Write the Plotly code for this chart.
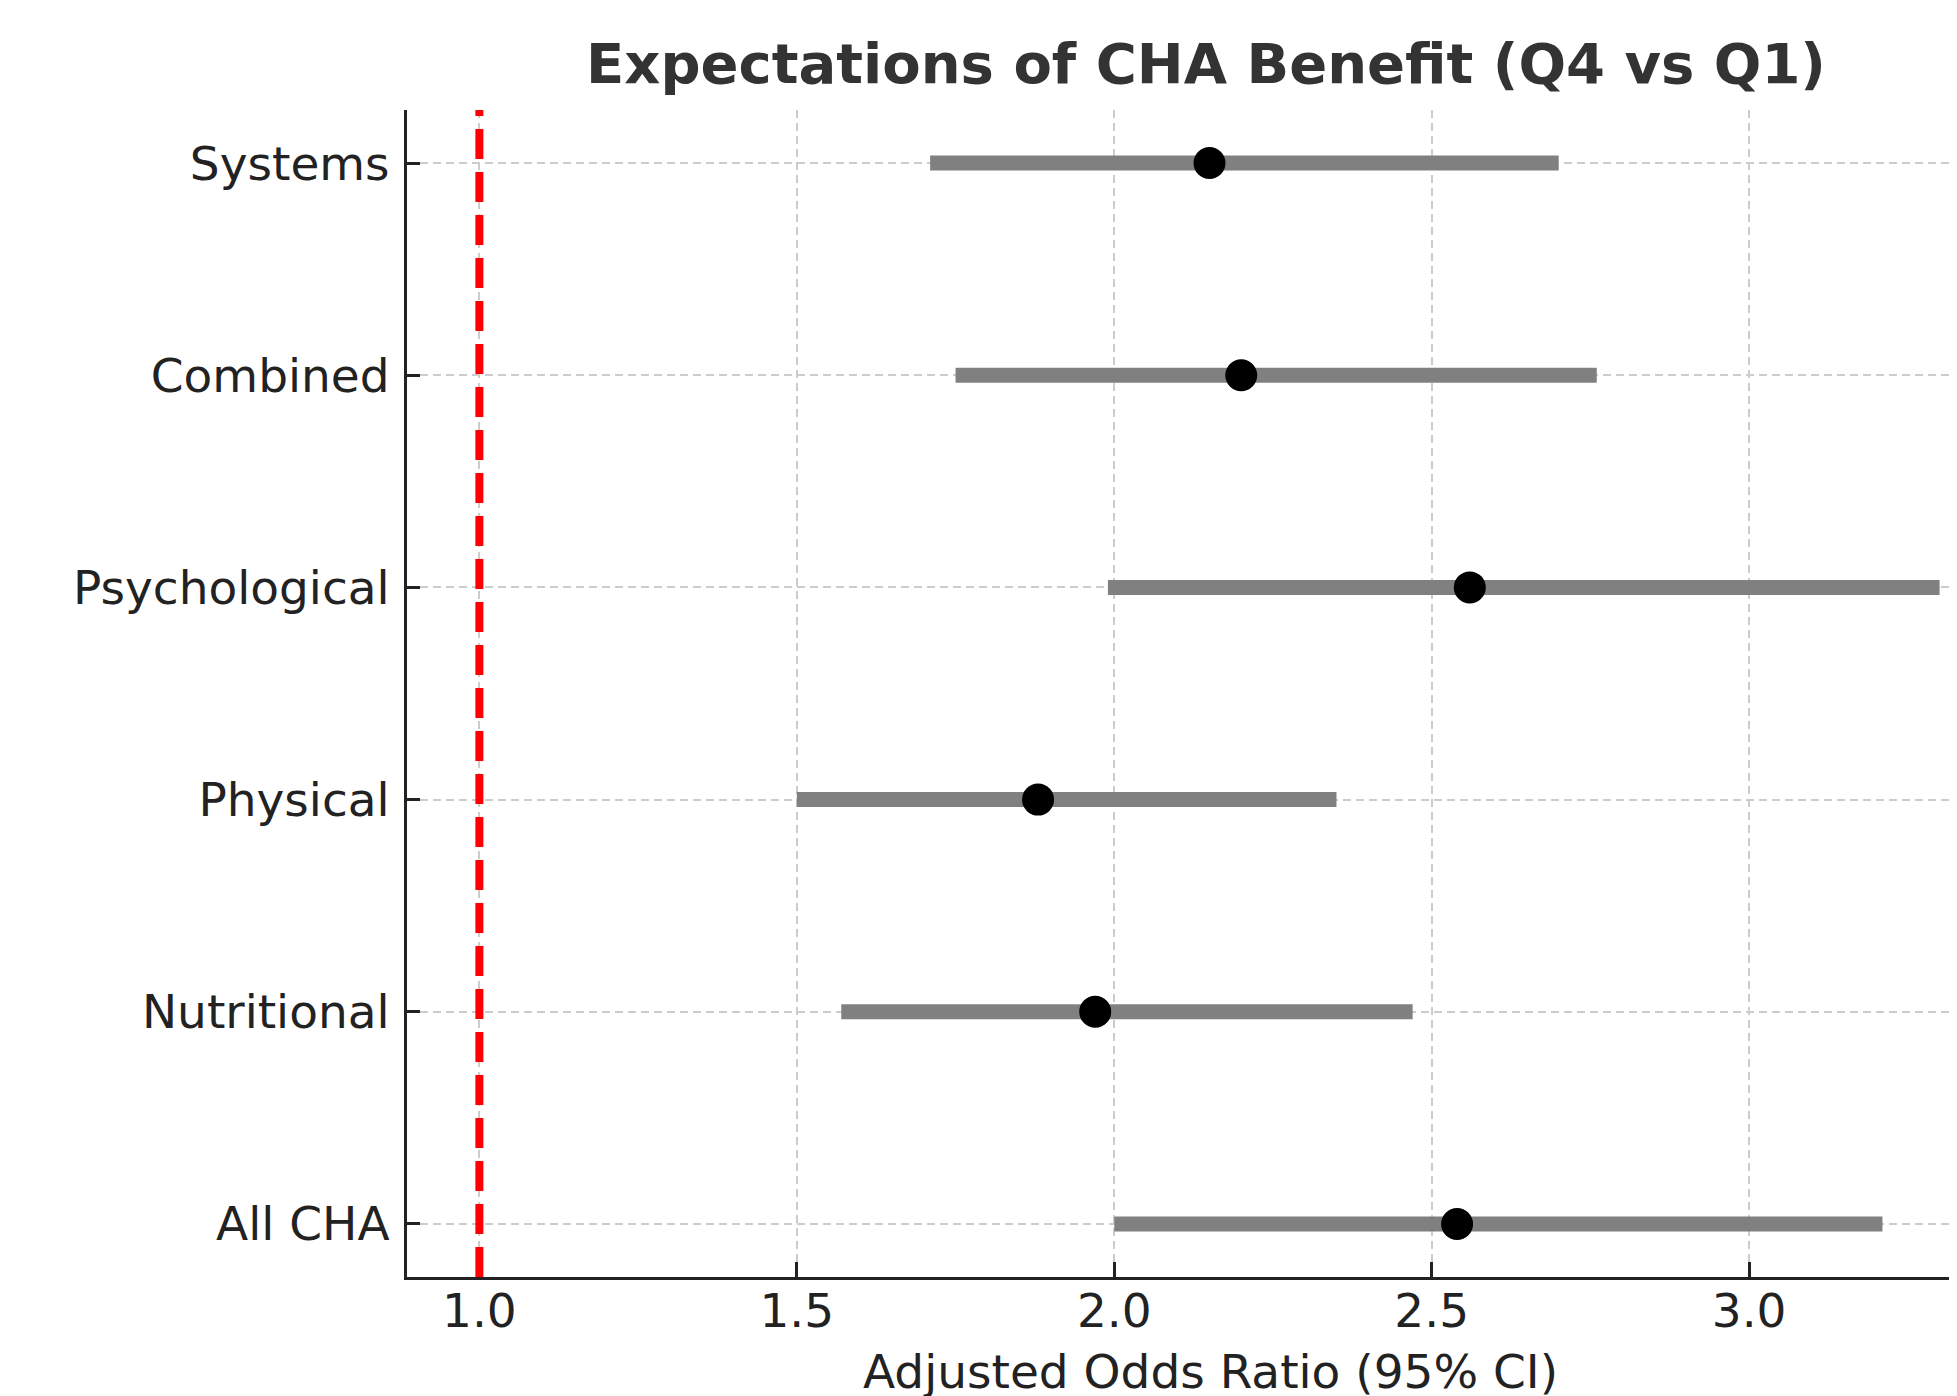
import plotly.graph_objects as go

# datos (OR ajustado, IC 95%)
categorias = ["Systems", "Combined", "Psychological", "Physical", "Nutritional", "All CHA"]
odds_ratio = [2.15, 2.20, 2.56, 1.88, 1.97, 2.54]
ic_inferior = [1.71, 1.75, 1.99, 1.50, 1.57, 2.00]
ic_superior = [2.70, 2.76, 3.30, 2.35, 2.47, 3.21]

x_ticks = [1.0, 1.5, 2.0, 2.5, 3.0]
x_ticktext = ["1.0", "1.5", "2.0", "2.5", "3.0"]

W, H = 1957, 1396
OFF = 8  # margen por defecto del body en la pagina html
M_L, M_R, M_T, M_B = 407 - OFF, 0, 110 - OFF, 119 + OFF

# posicion vertical: la primera categoria arriba
y_pos = [len(categorias) - 1 - i for i in range(len(categorias))]

fig = go.Figure()

fig.add_trace(go.Scatter(
    x=odds_ratio,
    y=y_pos,
    mode="markers",
    marker=dict(color="black", size=32, line=dict(width=0)),
    error_x=dict(
        type="data",
        symmetric=False,
        array=[hi - o for hi, o in zip(ic_superior, odds_ratio)],
        arrayminus=[o - lo for lo, o in zip(ic_inferior, odds_ratio)],
        color="#808080",
        thickness=15,
        width=0,
    ),
    showlegend=False,
    hoverinfo="skip",
))

# linea de referencia OR = 1
fig.add_shape(
    type="line", xref="x", yref="paper",
    x0=1.0, x1=1.0, y0=0, y1=1,
    line=dict(color="red", width=8, dash="30px,13px"),
)

fig.update_layout(
    width=W,
    height=H,
    paper_bgcolor="white",
    plot_bgcolor="white",
    margin=dict(l=M_L, r=M_R, t=M_T, b=M_B, pad=0),
    font=dict(family="DejaVu Sans", color="#222222"),
    title=dict(
        text="<b>Expectations of CHA Benefit (Q4 vs Q1)</b>",
        x=(1206 - OFF) / W,
        xanchor="center",
        xref="container",
        y=1 - (65 - OFF - 2) / H,
        yanchor="middle",
        yref="container",
        font=dict(size=56, color="#333333", family="DejaVu Sans"),
    ),
    xaxis=dict(
        range=[0.886, 3.340],
        tickvals=x_ticks,
        ticktext=x_ticktext,
        tickfont=dict(size=47, color="#222222"),
        ticks="inside",
        ticklen=15,
        tickwidth=2.5,
        tickcolor="#222222",
        ticklabelstandoff=-9,
        showline=True,
        linecolor="#222222",
        linewidth=3,
        mirror=False,
        showgrid=True,
        gridcolor="#cccccc",
        gridwidth=1.5,
        griddash="8px,5px",
        zeroline=False,
    ),
    yaxis=dict(
        range=[-0.25, 5.25],
        tickvals=y_pos,
        ticktext=categorias,
        tickfont=dict(size=47, color="#222222"),
        ticks="inside",
        ticklen=13,
        tickwidth=2.5,
        tickcolor="#222222",
        ticklabelstandoff=5,
        showline=True,
        linecolor="#222222",
        linewidth=3,
        mirror=False,
        showgrid=True,
        gridcolor="#cccccc",
        gridwidth=1.5,
        griddash="8px,5px",
        zeroline=False,
    ),
)

# titulo del eje x centrado en el eje completo (que sale del recorte)
fig.add_annotation(
    text="Adjusted Odds Ratio (95% CI)",
    xref="paper", yref="paper",
    x=(1206 - 407) / (W - 407),
    y=-(1363 - (H - M_B)) / (H - M_T - M_B),
    xanchor="center", yanchor="middle",
    showarrow=False,
    font=dict(size=47, color="#222222", family="DejaVu Sans"),
)

fig.write_html("out.html")
